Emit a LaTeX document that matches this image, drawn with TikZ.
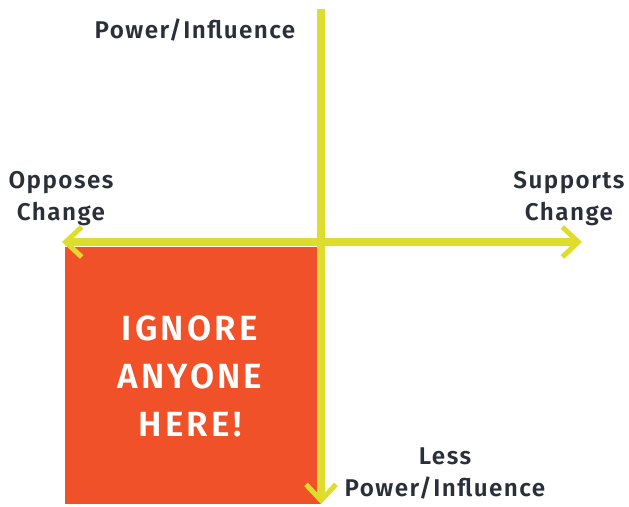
\documentclass[tikz,border=0pt]{standalone}
\usepackage{fontspec}
\setmainfont{Fira Sans}[UprightFont={* SemiBold},LetterSpace=6]
\newfontfamily\bigfont{Fira Sans}[UprightFont={* SemiBold},LetterSpace=9]
\usetikzlibrary{arrows.meta}
\definecolor{axisyellow}{HTML}{DEDC2C}
\definecolor{boxorange}{HTML}{F05128}
\definecolor{txtdark}{HTML}{2A2F3A}
\begin{document}
\begin{tikzpicture}[x=1pt,y=-1pt,
  axis/.style={draw=axisyellow,line width=8pt,
    -{Straight Barb[length=16pt,width=30pt,line width=5pt]}},
  lbl/.style={text=txtdark,font=\fontsize{24.2}{32}\selectfont,align=center,inner sep=0pt,anchor=base},
  big/.style={text=white,font=\bigfont\fontsize{35}{48}\selectfont,align=center,inner sep=0pt}]
\useasboundingbox (0,0) rectangle (629,506);
\node[fill=boxorange,minimum width=256pt,minimum height=257pt,inner sep=0pt,anchor=north west] (box) at (65,247) {};
\node[big] (ignore) at (190,376) {IGNORE\\ANYONE\\HERE!};
\coordinate (top) at (321,9);
\coordinate (bottom) at (321,504);
\coordinate (left) at (62,242);
\coordinate (right) at (582,242);
\coordinate (center) at (321,242);
\draw[axis] (center) -- (left);
\draw[axis] (center) -- (right);
\draw[axis,-] (top) -- (center);
\draw[axis] (center) -- (bottom);
\node[lbl] (pwr) at (195,38) {Power/Influence};
\node[lbl] (opp) at (61,220) {Opposes\\Change};
\node[lbl] (sup) at (569,220) {Supports\\Change};
\node[lbl] (less) at (445,496) {Less\\Power/Influence};
\end{tikzpicture}
\end{document}
